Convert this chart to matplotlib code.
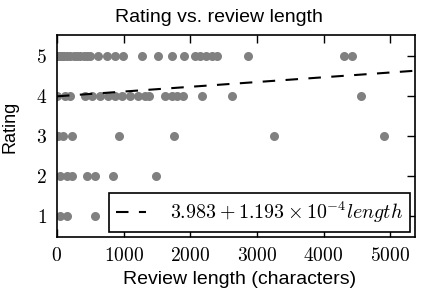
import matplotlib
matplotlib.use("Agg")
import matplotlib.pyplot as plt
from matplotlib.ticker import FuncFormatter

plt.rcParams['mathtext.fontset'] = 'cm'
plt.rcParams['font.family'] = 'Liberation Sans'

# review length (characters) for each rating
len_5 = [0, 20, 50, 80, 110, 150, 200, 250, 300, 350, 400, 450, 495, 615, 750, 870, 990,
         1275, 1515, 1725, 1905, 2070, 2145, 2235, 2325, 2400, 2865, 4305, 4425]
len_4 = [0, 120, 200, 420, 525, 645, 765, 870, 975, 1095, 1215, 1320, 1380, 1620, 1725,
         1800, 1890, 2175, 2625, 4560]
len_3 = [20, 90, 225, 930, 1755, 3255, 4905]
len_2 = [45, 150, 225, 450, 570, 840, 1485]
len_1 = [45, 150, 570]

lengths = len_5 + len_4 + len_3 + len_2 + len_1
ratings = [5] * len(len_5) + [4] * len(len_4) + [3] * len(len_3) + [2] * len(len_2) + [1] * len(len_1)

intercept = 3.983
slope = 1.193e-4
x_max = 5370

fig = plt.figure(figsize=(4.22, 2.96), dpi=100)
ax = fig.add_axes([0.135, 0.199, 0.848, 0.683])

ax.plot(lengths, ratings, 'o', color='#808080', markersize=6.5, markeredgewidth=0)
line_x = [0, x_max]
line_y = [intercept + slope * v for v in line_x]
ax.plot(line_x, line_y, color='black', linewidth=1.5, dashes=(6, 5),
        label=r'$3.983+1.193\times10^{-4}length$')

ax.set_xlim(0, x_max)
ax.set_ylim(0.46, 5.52)
ax.set_xticks([0, 1000, 2000, 3000, 4000, 5000])
ax.set_yticks([1, 2, 3, 4, 5])
ax.xaxis.set_major_formatter(FuncFormatter(lambda v, p: '$%d$' % v))
ax.yaxis.set_major_formatter(FuncFormatter(lambda v, p: '$%d$' % v))
ax.tick_params(direction='in', length=6, width=1, top=True, right=True, labelsize=14, pad=7)
for s in ax.spines.values():
    s.set_linewidth(1.2)

ax.set_xlabel('Review length (characters)', fontsize=14)
ax.xaxis.set_label_coords(0.511, -0.17)
ax.set_ylabel('Rating', fontsize=13)
ax.yaxis.set_label_coords(-0.107, 0.545)
ax.set_title('Rating vs. review length', fontsize=14, x=0.453, pad=9)

leg = ax.legend(loc='lower right', fontsize=14.4, fancybox=False, framealpha=1,
                edgecolor='black', borderaxespad=0.25, handlelength=1.5,
                handletextpad=1.2, borderpad=0.35)
leg.get_frame().set_linewidth(1.2)

fig.savefig('out.png', dpi=100)
